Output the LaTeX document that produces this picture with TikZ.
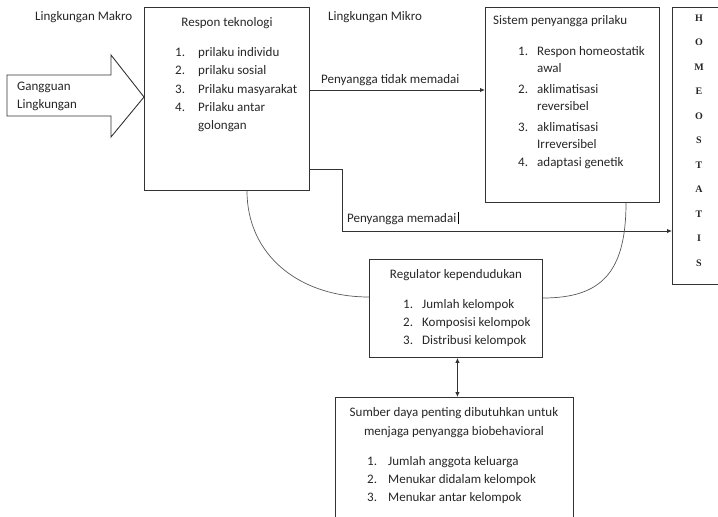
\documentclass[tikz,border=0pt]{standalone}
\usepackage{fontspec}
\setmainfont{Carlito}
\newfontfamily\letterfont{Liberation Serif}
\usetikzlibrary{arrows.meta,calc}
\definecolor{linec}{gray}{0.2}
\definecolor{arcc}{gray}{0.35}
\definecolor{txt}{gray}{0.15}
\newcommand{\bodyfont}{\fontsize{13}{15}\selectfont}
\begin{document}
\begin{tikzpicture}[x=1pt,y=-1pt,
  box/.style={draw=linec, line width=0.9pt, anchor=north west, inner sep=0pt},
  lbl/.style={anchor=west, inner sep=0pt, text height=0.7em, text depth=0pt, font=\bodyfont, text=txt},
  clbl/.style={lbl, anchor=center},
  letter/.style={anchor=center, inner sep=0pt, font=\letterfont\bfseries\fontsize{10}{11}\selectfont, text=txt},
  conn/.style={draw=linec, line width=0.9pt},
  arcline/.style={draw=arcc, line width=0.7pt},
  tip/.style={-{Latex[length=5pt,width=4.5pt]}},
  tips/.style={{Latex[length=5pt,width=4.5pt]}-{Latex[length=5pt,width=4.5pt]}}]
\useasboundingbox (0,0) rectangle (718,517);
\clip (0,0) rectangle (718,517);

% boxes
\node[box, minimum width=165pt, minimum height=183pt] (resp) at (144,7) {};
\node[box, minimum width=174pt, minimum height=195pt] (sis) at (485,7) {};
\node[box, minimum width=80pt, minimum height=277pt] (home) at (672,7) {};
\node[box, minimum width=173pt, minimum height=98pt] (reg) at (369,259) {};
\node[box, minimum width=238pt, minimum height=140pt] (sum) at (335,397) {};

% block arrow into the technology response box
\draw[linec, line width=0.9pt, fill=white] (7,75) -- (111,75) -- (111,55) -- (resp.west |- 0,97) -- (111,137) -- (111,116) -- (7,116) -- cycle;
\node[lbl] (g1) at (17,87) {Gangguan};
\node[lbl] (g2) at (17,105) {Lingkungan};

% environment labels
\node[lbl] (makro) at (35,17) {Lingkungan Makro};
\node[lbl] (mikro) at (328,17) {Lingkungan Mikro};

% technology response
\node[clbl] (respt) at (227,23) {Respon teknologi};
\foreach \n/\t/\y in {1./prilaku individu/53, 2./prilaku sosial/71, 3./Prilaku masyarakat/90, 4./Prilaku antar/108}{
  \node[lbl] at (175,\y) {\n};
  \node[lbl] at (198,\y) {\t};
}
\node[lbl] at (198,126) {golongan};

% behavioural buffer system
\node[lbl] (sist) at (493,21) {Sistem penyangga prilaku};
\foreach \n/\y in {1./52, 2./90, 3./128, 4./163}{
  \node[lbl] at (518,\y) {\n};
}
\foreach \t/\y in {Respon homeostatik/52, awal/69, aklimatisasi/90, reversibel/107, aklimatisasi/128, Irreversibel/145, adaptasi genetik/163}{
  \node[lbl] at (537,\y) {\t};
}

% homeostasis column
\foreach \c [count=\i from 0] in {H,O,M,E,O,S,T,A,T,I,S}{
  \node[letter] at (699,18+24.5*\i) {\c};
}

% population regulator
\node[clbl] (regt) at (456,275) {Regulator kependudukan};
\foreach \n/\t/\y in {1./Jumlah kelompok/305, 2./Komposisi kelompok/323, 3./Distribusi kelompok/341}{
  \node[lbl] at (403,\y) {\n};
  \node[lbl] at (422,\y) {\t};
}

% resources
\node[clbl] (sum1) at (454,413) {Sumber daya penting dibutuhkan untuk};
\node[clbl] (sum2) at (454,432) {menjaga penyangga biobehavioral};
\foreach \n/\t/\y in {1./Jumlah anggota keluarga/462, 2./Menukar didalam kelompok/480, 3./Menukar antar kelompok/498}{
  \node[lbl] at (367,\y) {\n};
  \node[lbl] at (388,\y) {\t};
}

% connectors
\draw[conn, tip] ($(resp.north east)+(0,83)$) coordinate (t1) -- (t1 -| sis.west);
\node[lbl] (tm) at (321,80) {Penyangga tidak memadai};

\draw[conn, tip] ($(resp.north east)+(0,162)$) -- ++(33,0) coordinate (kink)
  -- ($(kink)+(0,62)$) coordinate (low) -- (low -| home.west);
\node[lbl] (pm) at (347,219) {Penyangga memadai};
\draw[black, line width=0.8pt] ($(pm.east)+(1.5,-7)$) -- ++(0,12);

\draw[conn, tips] ($(reg.south)+(1.5,0)$) coordinate (r1) -- (r1 |- sum.north);

% feedback arcs to the regulator
\draw[arcline] ($(resp.south west)+(103,0)$) .. controls +(0,64) and +(-70,0) .. ($(reg.north west)+(0,38)$);
\draw[arcline] ($(sis.south west)+(141,0)$) .. controls +(0,70) and +(58,0) .. ($(reg.north east)+(0,39)$);
\end{tikzpicture}
\end{document}
